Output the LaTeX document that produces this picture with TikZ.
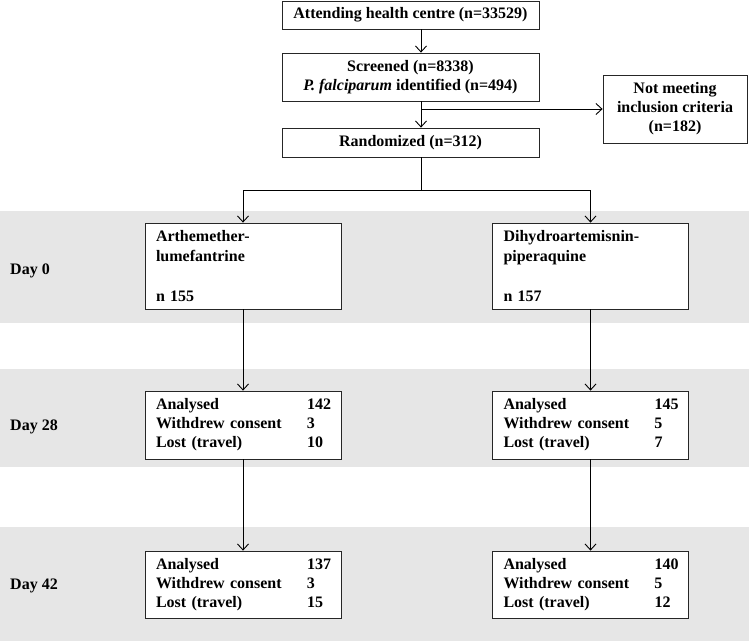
\documentclass[tikz,border=0pt]{standalone}
\usepackage{fontspec}
\setmainfont{Liberation Serif}
\usetikzlibrary{arrows.meta}
\definecolor{bandgray}{RGB}{230,230,230}
\begin{document}
\begin{tikzpicture}[x=1pt,y=-1pt,
  box/.style={draw=black!85, line width=0.8pt, fill=white, font=\fontsize{16}{19}\selectfont\bfseries, inner sep=0pt},
  armbox/.style={box, minimum width=196pt, text width=174pt, align=left},
  arr/.style={line width=0.9pt, -{Straight Barb[length=6pt,width=11pt]}},
  ln/.style={line width=0.9pt},
  daylab/.style={anchor=west, font=\fontsize{16}{19}\selectfont\bfseries, inner sep=0pt}]
\useasboundingbox (0,0) rectangle (749,641);
\fill[bandgray] (0,211) rectangle (749,323);
\fill[bandgray] (0,369) rectangle (749,467);
\fill[bandgray] (0,527) rectangle (749,641);

\node[box, minimum width=257pt, minimum height=28pt] (att) at (410.5,15) {Attending health centre (n=33529)};
\node[box, minimum width=257pt, minimum height=48pt, align=center] (scr) at (410.5,77) {Screened (n=8338)\\\textit{P. falciparum} identified (n=494)};
\node[box, minimum width=257pt, minimum height=29pt] (ran) at (410.5,142.5) {Randomized (n=312)};
\node[box, minimum width=144pt, minimum height=68pt, align=center] (nm) at (675,109) {Not meeting\\inclusion criteria\\(n=182)};

\node[armbox, minimum height=86pt, font=\fontsize{16}{20}\selectfont\bfseries] (al) at (243,266) {Arthemether-\\lumefantrine\\[20pt]n 155};
\node[armbox, minimum height=86pt, font=\fontsize{16}{20}\selectfont\bfseries] (ar) at (590.5,266) {Dihydroartemisnin-\\piperaquine\\[20pt]n 157};

\node[armbox, minimum height=68pt] (l28) at (243,425) {\begin{tabular}{@{}p{151pt}@{}l@{}}Analysed & 142\\Withdrew consent & 3\\Lost (travel) & 10\end{tabular}};
\node[armbox, minimum height=68pt] (r28) at (590.5,425) {\begin{tabular}{@{}p{151pt}@{}l@{}}Analysed & 145\\Withdrew consent & 5\\Lost (travel) & 7\end{tabular}};
\node[armbox, minimum height=67pt] (l42) at (243,584.5) {\begin{tabular}{@{}p{151pt}@{}l@{}}Analysed & 137\\Withdrew consent & 3\\Lost (travel) & 15\end{tabular}};
\node[armbox, minimum height=67pt] (r42) at (590.5,584.5) {\begin{tabular}{@{}p{151pt}@{}l@{}}Analysed & 140\\Withdrew consent & 5\\Lost (travel) & 12\end{tabular}};

\node[daylab] (d0) at (10,271) {Day 0};
\node[daylab] (d28) at (10,427) {Day 28};
\node[daylab] (d42) at (10,586) {Day 42};

\coordinate (sx) at (421,0);
\coordinate (br) at (421,190);
\draw[arr] (att.south -| sx) -- (scr.north -| sx);
\draw[arr] (scr.south -| sx) -- (ran.north -| sx);
\draw[arr] (nm.west -| sx) -- (nm.west);
\draw[ln] (ran.south -| sx) -- (br);
\draw[arr] (br) -| (al.north);
\draw[arr] (br) -| (ar.north);
\draw[arr] (al.south) -- (l28.north);
\draw[arr] (ar.south) -- (r28.north);
\draw[arr] (l28.south) -- (l42.north);
\draw[arr] (r28.south) -- (r42.north);
\end{tikzpicture}
\end{document}
